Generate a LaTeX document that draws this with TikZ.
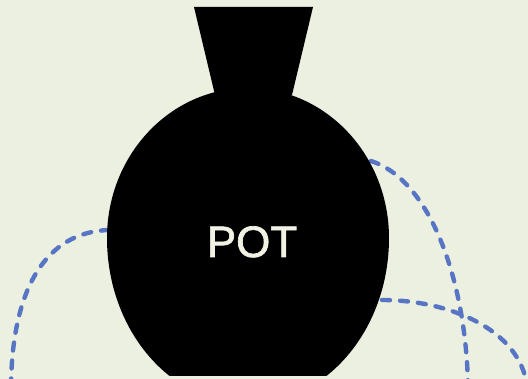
\documentclass[tikz,border=0pt]{standalone}
\usepackage{fontspec}
\setsansfont{Liberation Sans}
\usetikzlibrary{positioning}
\definecolor{bgcol}{RGB}{235,240,224}
\definecolor{wire}{RGB}{88,116,196}
\definecolor{potlabel}{RGB}{242,242,228}

\begin{document}
\begin{tikzpicture}[x=1pt, y=-1pt,
    wirelink/.style={draw=wire, line width=4.4pt, line cap=round, dash pattern=on 8pt off 10pt},
    potname/.style={text=potlabel, font=\sffamily\fontsize{44}{50}\selectfont, inner sep=0pt}
]
    \fill[bgcol] (0,0) rectangle (528,379);
    \useasboundingbox (0,0) rectangle (528,379);
    % where the wires leave the pot
    \coordinate (potwest) at (109,230);
    \coordinate (potne) at (371,161);
    \coordinate (potse) at (382,300);
    \coordinate (endleft) at (11,386);
    \coordinate (endmid) at (468,386);
    \coordinate (endright) at (527,386);
    \draw[wirelink] (potwest) .. controls (45,232) and (12,290) .. (endleft);
    \draw[wirelink] (potne) .. controls (430,180) and (466,280) .. (endmid);
    \draw[wirelink] (potse) .. controls (450,300) and (520,330) .. (endright);
    % pot body, cut flat at the bottom
    \begin{scope}
        \clip (0,0) rectangle (528,376);
        \fill[black] (107,238) arc[start angle=180, end angle=0, x radius=141pt, y radius=150pt]
            arc[start angle=0, end angle=-180, x radius=141pt, y radius=166pt] -- cycle;
    \end{scope}
    \fill[black] (194,7) -- (313,7) -- (292,95) -- (215,95) -- cycle;
    \node[potname, anchor=base] (pot) at (252,257) {\addfontfeature{FakeBold=1.5}POT};
\end{tikzpicture}
\end{document}
